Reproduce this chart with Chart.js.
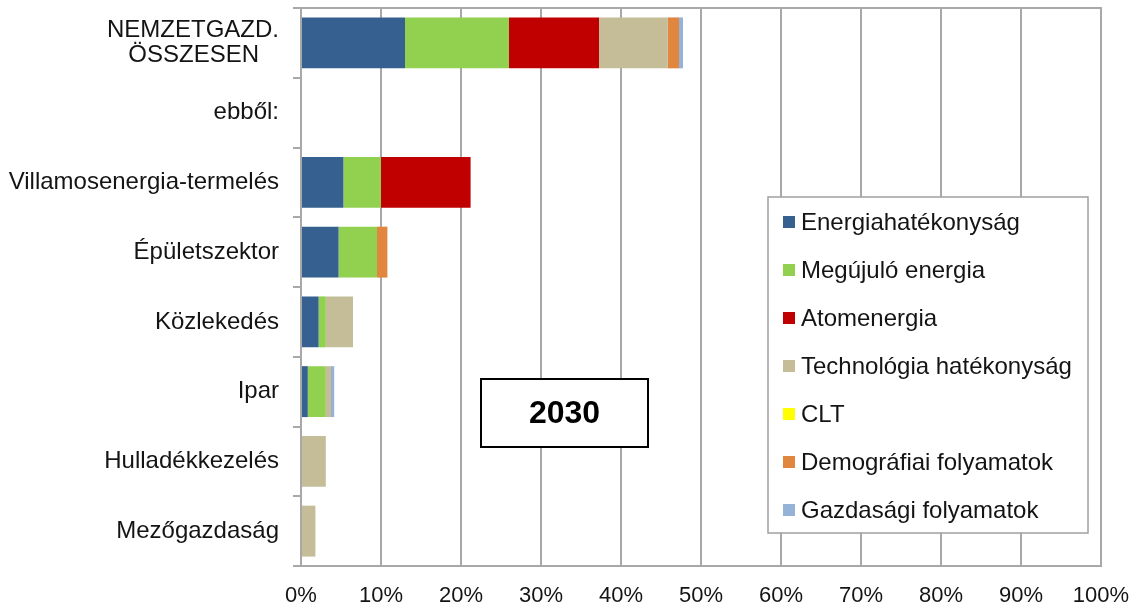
<!DOCTYPE html>
<html lang="hu">
<head>
<meta charset="utf-8">
<title>2030</title>
<script src="https://cdn.jsdelivr.net/npm/chart.js@4.4.1/dist/chart.umd.min.js"></script>
<style>
  html, body { margin: 0; padding: 0; background: #ffffff; }
  #wrap { width: 1142px; height: 610px; position: relative; }
</style>
</head>
<body>
<div id="wrap"><canvas id="chart" width="1142" height="610"></canvas></div>
<script>
// Sectors (rows of the chart)
const categories = [
  ['NEMZETGAZD.', 'ÖSSZESEN   '],
  'ebből:',
  'Villamosenergia-termelés',
  'Épületszektor',
  'Közlekedés',
  'Ipar',
  'Hulladékkezelés',
  'Mezőgazdaság'
];

// Contribution of each factor, in percent
const energiahatekonysag   = [13.0, null, 5.3, 4.7, 2.2, 0.85, 0, 0];
const megujuloEnergia      = [13.0, null, 4.7, 4.8, 0.9, 2.25, 0, 0];
const atomenergia          = [11.25, null, 11.2, 0, 0, 0, 0, 0];
const technologiaHatekony  = [8.6, null, 0, 0, 3.4, 0.65, 3.1, 1.8];
const clt                  = [0, null, 0, 0, 0, 0, 0, 0];
const demografiai          = [1.4, null, 0, 1.3, 0, 0, 0, 0];
const gazdasagi            = [0.5, null, 0, 0, 0, 0.4, 0, 0];

const seriesNames = [
  'Energiahatékonyság',
  'Megújuló energia',
  'Atomenergia',
  'Technológia hatékonyság',
  'CLT',
  'Demográfiai folyamatok',
  'Gazdasági folyamatok'
];
const seriesColors = ['#36608f', '#92d050', '#c00000', '#c4bd97', '#ffff00', '#e0863f', '#95b3d7'];
const seriesValues = [energiahatekonysag, megujuloEnergia, atomenergia, technologiaHatekony, clt, demografiai, gazdasagi];

const xTicks = [0, 10, 20, 30, 40, 50, 60, 70, 80, 90, 100];
const yearLabel = '2030';

const FONT = '"Liberation Sans", Arial, sans-serif';
const GRID = '#a8a8a8';
const TEXT = '#141414';

// Frame around the plot area (top and right sides)
const framePlugin = {
  id: 'frame',
  beforeDatasetsDraw(chart) {
    const { ctx, chartArea: a } = chart;
    ctx.save();
    ctx.strokeStyle = GRID;
    ctx.lineWidth = 2;
    ctx.beginPath();
    ctx.moveTo(a.left - 8, a.top);
    ctx.lineTo(a.right, a.top);
    ctx.lineTo(a.right, a.bottom);
    ctx.stroke();
    ctx.restore();
  }
};

// Boxed legend inside the plot, plus the year box
const overlayPlugin = {
  id: 'overlay',
  afterDraw(chart) {
    const { ctx } = chart;
    ctx.save();
    // legend box
    const lx = 768, ly = 197, lw = 320, lh = 336;
    ctx.fillStyle = '#ffffff';
    ctx.fillRect(lx, ly, lw, lh);
    ctx.strokeStyle = '#a0a0a0';
    ctx.lineWidth = 1.5;
    ctx.strokeRect(lx, ly, lw, lh);
    ctx.font = '24px ' + FONT;
    ctx.textBaseline = 'middle';
    ctx.textAlign = 'left';
    chart.data.datasets.forEach((ds, i) => {
      const cy = 222 + i * 48;
      ctx.fillStyle = ds.backgroundColor;
      ctx.fillRect(783, cy - 6, 12, 12);
      ctx.fillStyle = TEXT;
      ctx.fillText(ds.label, 801, cy + 1);
    });
    // year box
    const bx = 481, by = 379, bw = 167, bh = 68;
    ctx.fillStyle = '#ffffff';
    ctx.fillRect(bx, by, bw, bh);
    ctx.strokeStyle = '#000000';
    ctx.lineWidth = 2;
    ctx.strokeRect(bx, by, bw, bh);
    ctx.fillStyle = '#000000';
    ctx.font = 'bold 32px ' + FONT;
    ctx.textAlign = 'center';
    ctx.fillText(yearLabel, bx + bw / 2, by + bh / 2 + 1);
    ctx.restore();
  }
};

const datasets = seriesNames.map((name, i) => ({
  label: name,
  data: seriesValues[i],
  backgroundColor: seriesColors[i],
  borderWidth: 0,
  categoryPercentage: 0.73,
  barPercentage: 1.0
}));

new Chart(document.getElementById('chart'), {
  type: 'bar',
  data: { labels: categories, datasets },
  options: {
    indexAxis: 'y',
    responsive: false,
    animation: false,
    layout: { padding: { top: 8, right: 41, left: 0, bottom: 0 } },
    plugins: {
      legend: { display: false },
      tooltip: { enabled: false }
    },
    scales: {
      x: {
        stacked: true,
        min: 0,
        max: 100,
        afterBuildTicks(scale) { scale.ticks = xTicks.map(v => ({ value: v })); },
        afterFit(scale) { scale.height = 44; scale.paddingLeft = 0; scale.paddingRight = 0; },
        grid: { color: GRID, lineWidth: 2, drawTicks: false },
        border: { color: GRID, width: 2 },
        ticks: {
          padding: 17,
          color: TEXT,
          font: { family: FONT, size: 22 },
          callback: v => v + '%'
        }
      },
      y: {
        stacked: true,
        afterFit(scale) { scale.width = 301; scale.paddingTop = 0; scale.paddingBottom = 0; },
        grid: { color: GRID, lineWidth: 2, drawOnChartArea: false, drawTicks: true, tickLength: 8, offset: true },
        border: { color: GRID, width: 2 },
        ticks: {
          padding: 14,
          color: TEXT,
          font: { family: FONT, size: 24, lineHeight: 1.05 }
        }
      }
    }
  },
  plugins: [framePlugin, overlayPlugin]
});
</script>
</body>
</html>
